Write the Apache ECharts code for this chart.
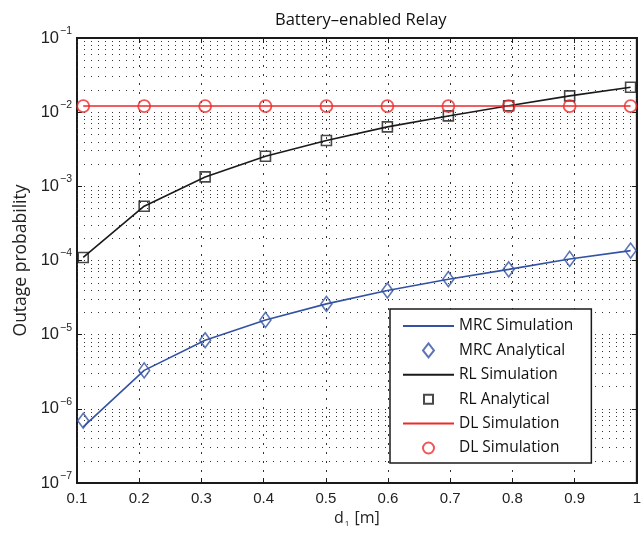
<!DOCTYPE html>
<html>
<head>
<meta charset="utf-8">
<script src="https://cdn.jsdelivr.net/npm/echarts@6/dist/echarts.min.js"></script>
<style>
html, body { margin: 0; padding: 0; background: #fff; }
#chart { width: 644px; height: 537px; }
</style>
</head>
<body>
<div id="chart"></div>
<script>
// distance d1 [m] of the simulated points
var dAry = [0.11, 0.208, 0.306, 0.403, 0.501, 0.599, 0.697, 0.794, 0.892, 0.99];
var mrcSimAry = [5.7e-7, 3.3e-6, 8.4e-6, 1.58e-5, 2.6e-5, 3.94e-5, 5.6e-5, 7.6e-5, 1.05e-4, 1.36e-4];
var mrcAnaAry = [6.9e-7, 3.3e-6, 8.4e-6, 1.58e-5, 2.6e-5, 3.94e-5, 5.6e-5, 7.6e-5, 1.05e-4, 1.36e-4];
var rlSimAry = [1.1e-4, 5.4e-4, 1.34e-3, 2.55e-3, 4.15e-3, 6.33e-3, 8.9e-3, 1.22e-2, 1.66e-2, 2.17e-2];
var rlAnaAry = [1.1e-4, 5.4e-4, 1.34e-3, 2.55e-3, 4.15e-3, 6.33e-3, 8.9e-3, 1.22e-2, 1.66e-2, 2.17e-2];
var dlSimAry = [0.0121, 0.0121, 0.0121, 0.0121, 0.0121, 0.0121, 0.0121, 0.0121, 0.0121, 0.0121];
var dlMarkAry = [0.0121, 0.0121, 0.0121, 0.0121, 0.0121, 0.0121, 0.0121, 0.0121, 0.0121, 0.0121];
var legendNames = ['MRC Simulation', 'MRC Analytical', 'RL Simulation', 'RL Analytical', 'DL Simulation', 'DL Simulation '];
var decadeAry = [-7, -6, -5, -4, -3, -2];
var minorMulAry = [2, 3, 4, 5, 6, 7, 8, 9];

var BLUE = '#3352a4';
var BLACK = '#1a1a1a';
var RED = '#ee2a2a';
var tickFont = "'Liberation Sans Narrow', 'Liberation Sans', sans-serif";
var textFont = "'Open Sans', sans-serif";

function pairs(xs, ys) {
    var out = [];
    for (var i = 0; i < xs.length; i++) out.push([xs[i], ys[i]]);
    return out;
}

// 对数坐标的次网格线 (2..9 x 10^k)，画在一个隐藏的线性轴 (指数) 上
var minorLines = [];
for (var i = 0; i < decadeAry.length; i++) {
    for (var j = 0; j < minorMulAry.length; j++) {
        minorLines.push({ yAxis: decadeAry[i] + Math.log(minorMulAry[j]) / Math.LN10 });
    }
}

var dotStyle = { color: '#333', width: 1, type: [1, 6] };

// legend icons (with padding in the path box so they keep a small size)
var diamondIcon = 'path://M0,0M14,14M7,0L12.5,7L7,14L1.5,7Z';
var squareIcon = 'path://M0,0M14,14M2.5,2.5L11.5,2.5L11.5,11.5L2.5,11.5Z';
var circleIcon = 'path://M0,0M14,14M1.5,7A5.5,5.5,0,1,1,12.5,7A5.5,5.5,0,1,1,1.5,7Z';

var chartDom = document.getElementById('chart');
var myChart = echarts.init(chartDom);
var option = {
    animation: false,
    backgroundColor: '#fff',
    title: {
        text: 'Battery\u2013enabled Relay',
        left: 270,
        top: 7,
        textStyle: { fontFamily: textFont, fontSize: 16.5, fontWeight: 'normal', color: '#111' }
    },
    grid: {
        left: 77,
        right: 4,
        top: 38,
        bottom: 54,
        show: true,
        borderColor: BLACK,
        borderWidth: 2
    },
    legend: {
        orient: 'vertical',
        left: 390,
        top: 309,
        z: 10,
        padding: [9, 18, 7, 12],
        itemWidth: 51,
        itemHeight: 14,
        itemGap: 8.4,
        borderColor: BLACK,
        borderWidth: 1.5,
        backgroundColor: '#fff',
        textStyle: { fontFamily: textFont, fontSize: 15.5, color: '#111' },
        data: [
            { name: legendNames[0], itemStyle: { opacity: 0 } },
            { name: legendNames[1], icon: diamondIcon },
            { name: legendNames[2], itemStyle: { opacity: 0 } },
            { name: legendNames[3], icon: squareIcon },
            { name: legendNames[4], itemStyle: { opacity: 0 } },
            { name: legendNames[5], icon: circleIcon }
        ]
    },
    xAxis: [
        {
            type: 'value',
            min: 0.1,
            max: 1,
            interval: 0.1,
            name: '{a|d}{s|1}{a| [m]}',
            nameLocation: 'middle',
            nameGap: 27,
            nameTextStyle: {
                rich: {
                    a: { fontFamily: textFont, fontSize: 16, color: '#222' },
                    s: { fontFamily: textFont, fontSize: 8, color: '#222', padding: [9, 1, 0, 1] }
                }
            },
            axisLine: { show: true, lineStyle: { color: BLACK, width: 2 } },
            axisTick: { show: true, inside: true, length: 5, lineStyle: { color: BLACK } },
            axisLabel: {
                margin: 8,
                fontFamily: tickFont,
                fontSize: 15,
                color: '#222',
                formatter: function (v) { return String(Math.round(v * 10) / 10); }
            },
            splitLine: { show: true, lineStyle: { color: '#333', width: 1, type: [2, 7] } }
        },
        {
            type: 'value',
            position: 'top',
            min: 0.1,
            max: 1,
            interval: 0.1,
            axisLine: { show: true, lineStyle: { color: BLACK, width: 2 } },
            axisTick: { show: true, inside: true, length: 5, lineStyle: { color: BLACK } },
            axisLabel: { show: false },
            splitLine: { show: false }
        }
    ],
    yAxis: [
        {
            type: 'log',
            logBase: 10,
            min: 1e-7,
            max: 1e-1,
            splitNumber: 6,
            name: 'Outage probability',
            nameLocation: 'middle',
            nameGap: 46,
            nameTextStyle: { fontFamily: textFont, fontSize: 17.5, color: '#222' },
            axisLine: { show: true, lineStyle: { color: BLACK, width: 2 } },
            axisTick: { show: true, inside: true, length: 5, lineStyle: { color: BLACK } },
            axisLabel: {
                margin: 5,
                color: '#222',
                formatter: function (v) {
                    var k = Math.round(Math.log(v) / Math.LN10);
                    return '{b|10}{s|\u2212' + Math.abs(k) + '}';
                },
                rich: {
                    b: { fontFamily: tickFont, fontSize: 16.5, color: '#222' },
                    s: { fontFamily: tickFont, fontSize: 10.5, color: '#222', padding: [0, 0, 14, 1] }
                }
            },
            splitLine: { show: true, lineStyle: dotStyle }
        },
        {
            type: 'log',
            logBase: 10,
            position: 'right',
            min: 1e-7,
            max: 1e-1,
            splitNumber: 6,
            axisLine: { show: true, lineStyle: { color: BLACK, width: 2 } },
            axisTick: { show: true, inside: true, length: 5, lineStyle: { color: BLACK } },
            axisLabel: { show: false },
            splitLine: { show: false }
        },
        {
            type: 'value',
            min: -7,
            max: -1,
            show: false
        }
    ],
    series: [
        {
            name: 'minor-grid',
            type: 'line',
            yAxisIndex: 2,
            data: [],
            silent: true,
            markLine: {
                silent: true,
                z: 1,
                symbol: 'none',
                animation: false,
                label: { show: false },
                lineStyle: dotStyle,
                data: minorLines
            },
            z: 1
        },
        {
            name: legendNames[0],
            type: 'line',
            data: pairs(dAry, mrcSimAry),
            symbol: 'none',
            lineStyle: { color: BLUE, width: 1.6 },
            itemStyle: { color: BLUE },
            z: 3
        },
        {
            name: legendNames[1],
            type: 'scatter',
            data: pairs(dAry, mrcAnaAry),
            symbol: 'diamond',
            symbolSize: [11, 15],
            itemStyle: { color: 'rgba(255,255,255,0)', borderColor: BLUE, borderWidth: 1.6 },
            z: 4
        },
        {
            name: legendNames[2],
            type: 'line',
            data: pairs(dAry, rlSimAry),
            symbol: 'none',
            lineStyle: { color: BLACK, width: 1.6 },
            itemStyle: { color: BLACK },
            z: 3
        },
        {
            name: legendNames[3],
            type: 'scatter',
            data: pairs(dAry, rlAnaAry),
            symbol: 'rect',
            symbolSize: 10,
            itemStyle: { color: 'rgba(255,255,255,0)', borderColor: BLACK, borderWidth: 1.6 },
            z: 4
        },
        {
            name: legendNames[4],
            type: 'line',
            data: pairs(dAry, dlSimAry),
            symbol: 'none',
            lineStyle: { color: RED, width: 1.6 },
            itemStyle: { color: RED },
            z: 3
        },
        {
            name: legendNames[5],
            type: 'scatter',
            data: pairs(dAry, dlMarkAry),
            symbol: 'circle',
            symbolSize: 12,
            itemStyle: { color: 'rgba(255,255,255,0)', borderColor: RED, borderWidth: 1.8 },
            z: 4
        }
    ]
};

// 使用刚指定的配置项和数据显示图表。
myChart.setOption(option);
</script>
</body>
</html>
